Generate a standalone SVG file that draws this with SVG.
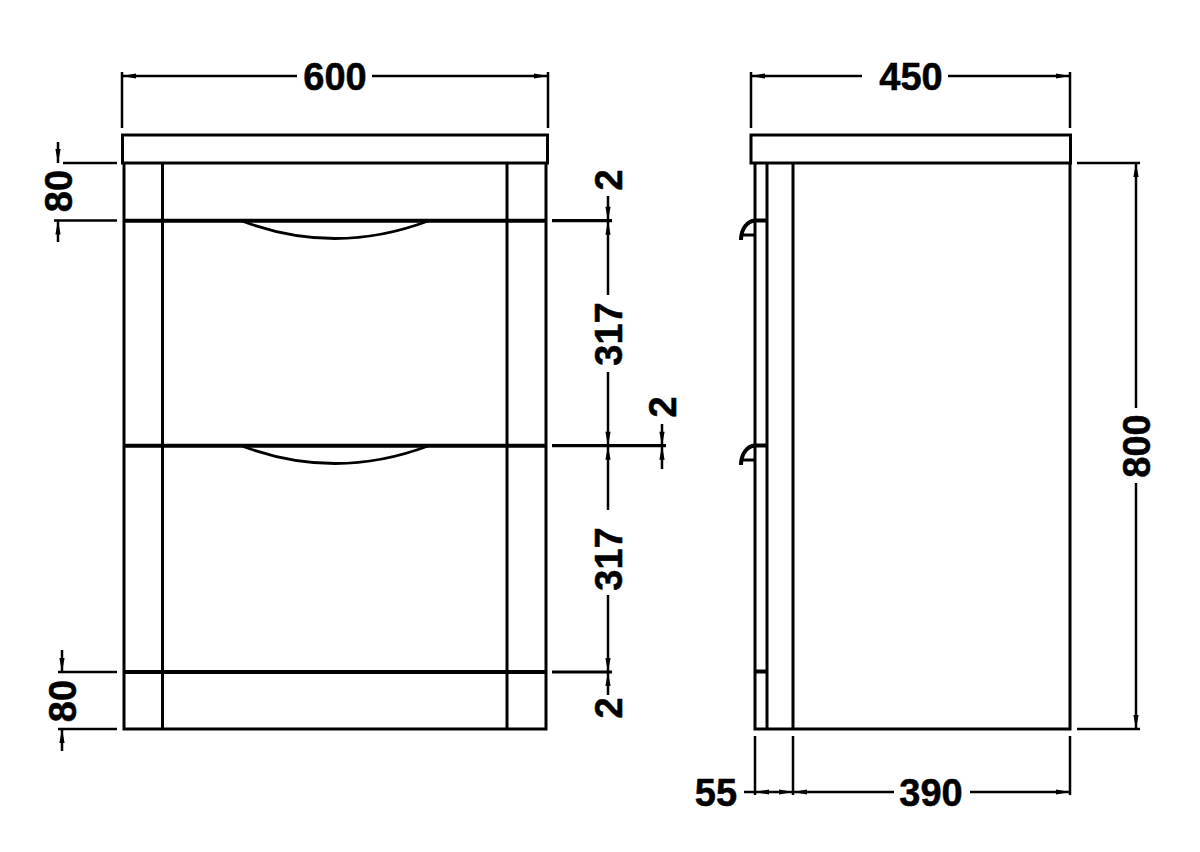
<svg xmlns="http://www.w3.org/2000/svg" width="1200" height="852" viewBox="0 0 1200 852">
<defs>
<style>
.l{fill:none;stroke:#000;stroke-width:3}
.t{fill:none;stroke:#000;stroke-width:4}
.c{fill:none;stroke:#000;stroke-width:2.8}
.d{fill:none;stroke:#000;stroke-width:2.5}
.a{fill:#000;stroke:none}
text{font-family:"Liberation Sans",Arial,sans-serif;font-weight:700;font-size:38px;fill:#000;stroke:#000;stroke-width:.5;text-anchor:middle}
</style>
</defs>
<rect width="1200" height="852" fill="#fff"/>
<g id="front-view">
<rect class="l" x="122.5" y="135" width="425" height="28"/>
<path class="l" d="M124 163V729H546V163M162.5 163V729M507 163V729"/>
<path class="t" d="M124 220.7H546M124 445.7H546M124 672H546"/>
<path class="c" d="M242 221Q335 256 428 221M242 446Q335 481 428 446"/>
</g>
<g id="side-view">
<rect class="l" x="751" y="135" width="319.5" height="28"/>
<path class="l" d="M755 163V729H1070V163M767 163V729M793 163V729"/>
<path class="t" d="M755 220.5H767M755 445.5H767M755 671.5H767"/>
<path class="c" d="M755 235H741M755 460H741"/>
<path class="t" d="M741 240C741 229 747 221 755 220.5M741 465C741 454 747 446 755 445.5"/>
</g>
<g id="connectors">
<path class="d" d="M122 72V128M548 72V128M123 76H297M372 76H548"/>
<path class="d" d="M751 72V128M1070 72V128M752 76H862M948 76H1070"/>
<path class="d" d="M63 163H117M54 220.5H117M58 142V163M58 220.5V242"/>
<path class="d" d="M58 672H117M58 729H117M62 650V672M62 729V751"/>
<path class="t" d="M552 220.7H612M552 445.7H666M552 672H612" style="stroke-width:3.2"/>
<path class="d" d="M608 196V295M608 372V510M608 595V695M662 424V469"/>
<path class="d" d="M1077 163H1140M1077 729H1140M1136 163V408M1136 483V729"/>
<path class="d" d="M755 736V795M793 736V795M1070 736V795M744 792H793M793 792H894M970 792H1070"/>
<g class="arrows">
<path class="a" d="M122 76l14-2.6v5.2zM548 76l-14-2.6v5.2zM751 76l14-2.6v5.2zM1070 76l-14-2.6v5.2z"/>
<path class="a" d="M58 163l-2.6-14h5.2zM58 220.5l-2.6 14h5.2zM62 672l-2.6-14h5.2zM62 729l-2.6 14h5.2z"/>
<path class="a" d="M608 220.7l-2.6-14h5.2zM608 220.7l-2.6 14h5.2zM608 445.7l-2.6-14h5.2zM608 445.7l-2.6 14h5.2zM608 672l-2.6-14h5.2zM608 672l-2.6 14h5.2zM662 445.7l-2.6-14h5.2zM662 445.7l-2.6 14h5.2z"/>
<path class="a" d="M1136 163l-2.6 14h5.2zM1136 729l-2.6-14h5.2z"/>
<path class="a" d="M755 792l14-2.6v5.2zM793 792l-14-2.6v5.2zM793 792l14-2.6v5.2zM1070 792l-14-2.6v5.2z"/>
</g>
</g>
<g id="labels">
<text x="335" y="90">600</text>
<text x="911" y="90">450</text>
<text x="716" y="806">55</text>
<text x="931" y="806">390</text>
<text transform="translate(72 191) rotate(-90)">80</text>
<text transform="translate(76 701) rotate(-90)">80</text>
<text transform="translate(622 180) rotate(-90)">2</text>
<text transform="translate(622 334) rotate(-90)">317</text>
<text transform="translate(676 407) rotate(-90)">2</text>
<text transform="translate(622 559) rotate(-90)">317</text>
<text transform="translate(622 708) rotate(-90)">2</text>
<text transform="translate(1150 446) rotate(-90)">800</text>
</g>
</svg>
